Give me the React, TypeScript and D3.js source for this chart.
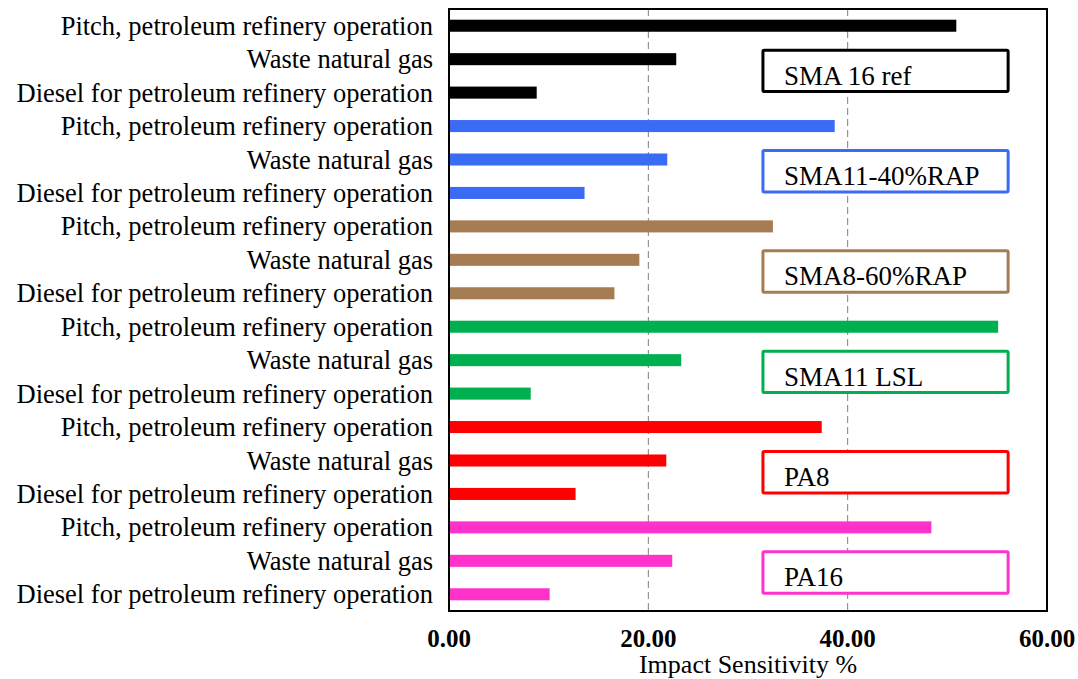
import React from "react";
import * as d3 from "d3";

const groups = ["SMA 16 ref", "SMA11-40%RAP", "SMA8-60%RAP", "SMA11 LSL", "PA8", "PA16"];
const groupColors = ["#000000", "#3A6BF5", "#A67C52", "#00B050", "#FF0000", "#FF33CC"];
const processes = [
  "Pitch, petroleum refinery operation",
  "Waste natural gas",
  "Diesel for petroleum refinery operation",
];
const pitchValues = [50.9, 38.7, 32.5, 55.1, 37.4, 48.4];
const wasteGasValues = [22.8, 21.9, 19.1, 23.3, 21.8, 22.4];
const dieselValues = [8.8, 13.6, 16.6, 8.2, 12.7, 10.1];
const xTicks = [0, 20, 40, 60];
const xTitle = "Impact Sensitivity %";

const W = 1078;
const H = 679;
const M = { left: 449, right: 1047, top: 9, bottom: 611 };

export default function App() {
  const rows: { key: string; label: string; value: number; color: string }[] = [];
  groups.forEach((g, gi) => {
    const vals = [pitchValues[gi], wasteGasValues[gi], dieselValues[gi]];
    processes.forEach((p, pi) => {
      rows.push({ key: `${gi}-${pi}`, label: p, value: vals[pi], color: groupColors[gi] });
    });
  });

  const x = d3.scaleLinear().domain([0, 60]).range([M.left, M.right]);
  const y = d3
    .scaleBand<string>()
    .domain(rows.map((r) => r.key))
    .range([M.top, M.bottom])
    .paddingInner(0.64)
    .paddingOuter(0.32);
  const bw = y.bandwidth();

  return (
    <svg
      width={W}
      height={H}
      style={{ position: "absolute", left: 0, top: 0, background: "#fff" }}
      fontFamily="'Liberation Serif', 'Times New Roman', serif"
    >
      {xTicks
        .filter((t) => t > 0 && t < 60)
        .map((t) => (
          <line
            key={t}
            x1={x(t)}
            x2={x(t)}
            y1={M.top}
            y2={M.bottom}
            stroke="#808080"
            strokeWidth={1}
            strokeDasharray="7,4"
          />
        ))}
      {rows.map((r) => (
        <rect key={r.key} x={x(0)} y={y(r.key)!} width={x(r.value) - x(0)} height={bw} fill={r.color} />
      ))}
      <rect
        x={M.left}
        y={M.top}
        width={M.right - M.left}
        height={M.bottom - M.top}
        fill="none"
        stroke="#000"
        strokeWidth={2}
      />
      {rows.map((r) => (
        <text
          key={"l" + r.key}
          x={433}
          y={y(r.key)! + bw / 2 + 9}
          textAnchor="end"
          fontSize={26.5}
          fill="#000"
        >
          {r.label}
        </text>
      ))}
      {groups.map((g, gi) => {
        const top = y(`${gi}-1`)! + bw / 2 - 9;
        const bottom = y(`${gi}-2`)! + bw / 2 - 1;
        const x0 = x(31.5);
        const x1 = x(56.1);
        return (
          <g key={"b" + gi}>
            <rect
              x={x0}
              y={top}
              width={x1 - x0}
              height={bottom - top}
              fill="#fff"
              stroke={groupColors[gi]}
              strokeWidth={3}
              rx={1.5}
            />
            <text x={x0 + 21} y={bottom - 7} fontSize={27} fill="#000">
              {g}
            </text>
          </g>
        );
      })}
      {xTicks.map((t) => (
        <text key={"t" + t} x={x(t)} y={647} textAnchor="middle" fontSize={25} fontWeight="bold" fill="#000">
          {t.toFixed(2)}
        </text>
      ))}
      <text x={748} y={673} textAnchor="middle" fontSize={26} fill="#000">
        {xTitle}
      </text>
    </svg>
  );
}
